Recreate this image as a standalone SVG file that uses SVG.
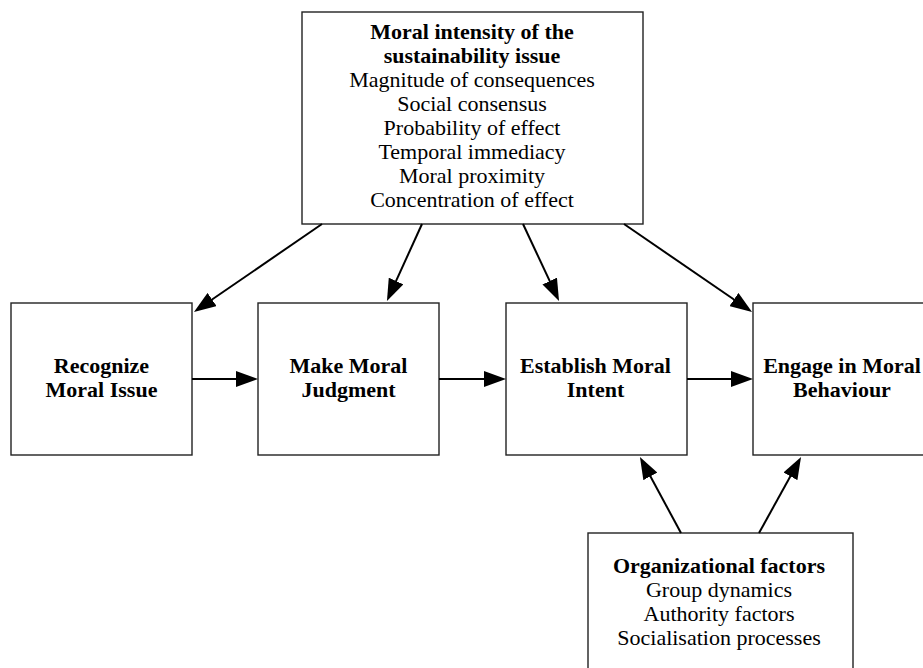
<svg xmlns="http://www.w3.org/2000/svg" width="923" height="668" viewBox="0 0 923 668">
<style>
.box{fill:#fff;stroke:#222;stroke-width:1.4}
.t{font-family:"Liberation Serif","Times New Roman",serif;font-size:22px;fill:#000;text-anchor:middle}
.b{font-weight:bold}
.c{stroke:#000;stroke-width:2;fill:none;marker-end:url(#ah)}
</style>
<defs>
<marker id="ah" markerUnits="userSpaceOnUse" markerWidth="22" markerHeight="16" refX="12" refY="8" orient="auto" viewBox="0 0 22 16">
<path d="M0,0 L22,8 L0,16 z" fill="#000"/>
</marker>
</defs>
<rect width="923" height="668" fill="#fff"/>
<g id="intensity">
<rect class="box" x="302" y="12" width="341" height="212"/>
<text class="t b" x="472" y="39">Moral intensity of the</text>
<text class="t b" x="472" y="63">sustainability issue</text>
<text class="t" x="472" y="87">Magnitude of consequences</text>
<text class="t" x="472" y="111">Social consensus</text>
<text class="t" x="472" y="135">Probability of effect</text>
<text class="t" x="472" y="159">Temporal immediacy</text>
<text class="t" x="472" y="183">Moral proximity</text>
<text class="t" x="472" y="207">Concentration of effect</text>
</g>
<g id="recognize">
<rect class="box" x="11" y="303" width="181" height="152"/>
<text class="t b" x="101.5" y="372.5">Recognize</text>
<text class="t b" x="101.5" y="396.5">Moral Issue</text>
</g>
<g id="judgment">
<rect class="box" x="258" y="303" width="181" height="152"/>
<text class="t b" x="348.5" y="372.5">Make Moral</text>
<text class="t b" x="348.5" y="396.5">Judgment</text>
</g>
<g id="intent">
<rect class="box" x="506" y="303" width="181" height="152"/>
<text class="t b" x="595.5" y="372.5">Establish Moral</text>
<text class="t b" x="595.5" y="396.5">Intent</text>
</g>
<g id="behaviour">
<rect class="box" x="753" y="303" width="180" height="152"/>
<text class="t b" x="842" y="372.5">Engage in Moral</text>
<text class="t b" x="842" y="396.5">Behaviour</text>
</g>
<g id="organizational">
<rect class="box" x="588" y="533" width="265" height="150"/>
<text class="t b" x="719" y="573">Organizational factors</text>
<text class="t" x="719" y="597">Group dynamics</text>
<text class="t" x="719" y="621">Authority factors</text>
<text class="t" x="719" y="645">Socialisation processes</text>
</g>
<g id="connectors">
<line class="c" x1="192" y1="379" x2="248" y2="379"/>
<line class="c" x1="439" y1="379" x2="496" y2="379"/>
<line class="c" x1="687" y1="379" x2="743" y2="379"/>
<line class="c" x1="322" y1="224" x2="202.2" y2="306.3"/>
<line class="c" x1="422" y1="224" x2="391.1" y2="291.9"/>
<line class="c" x1="523" y1="224" x2="554.8" y2="291.9"/>
<line class="c" x1="624" y1="224" x2="743.8" y2="306.3"/>
<line class="c" x1="681" y1="533" x2="644.7" y2="465.8"/>
<line class="c" x1="759" y1="533" x2="796.2" y2="465.8"/>
</g>
</svg>
